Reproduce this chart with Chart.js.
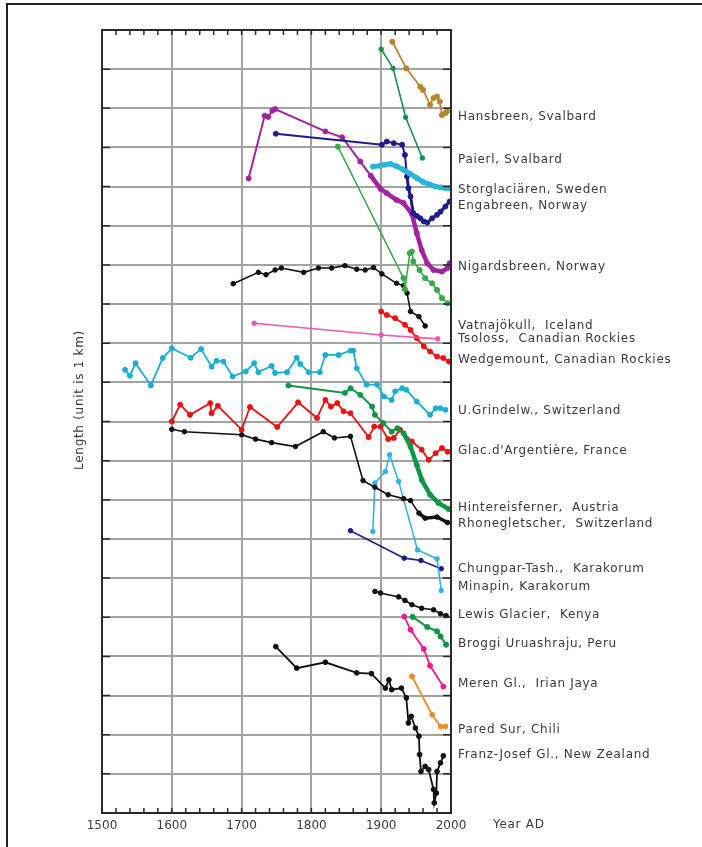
<!DOCTYPE html>
<html lang="en">
<head>
<meta charset="UTF-8">
<title>Glacier length records</title>
<script src="https://cdn.jsdelivr.net/npm/chart.js"></script>
<style>
    html, body { margin: 0; padding: 0; background: #fff; }
    .page { position: relative; width: 702px; height: 847px; overflow: hidden; }
    .frame {
        position: absolute; left: 6px; top: 3px; right: -4px; bottom: -4px;
        border-top: 2px solid #222; border-left: 2px solid #222;
    }
    canvas { position: absolute; left: 0; top: 0; }
</style>
</head>
<body>
<div class="page">
    <div class="frame"></div>
    <canvas id="glaciers" width="702" height="847"></canvas>
</div>

<script>
// --- data: year AD and relative length (km) ---
const hansbreenYear = [1916, 1936, 1956, 1960, 1970, 1975, 1980, 1984, 1987, 1992, 1994];
const hansbreenLen  = [19.70, 19.02, 18.55, 18.47, 18.09, 18.26, 18.30, 18.17, 17.83, 17.88, 17.92];

const paierlYear = [1900, 1917, 1935, 1959];
const paierlLen  = [19.51, 19.02, 17.77, 16.73];

const storYear = [1888, 1898, 1905, 1913, 1922, 1932, 1941, 1951, 1960, 1970, 1978, 1985, 1992, 1998];
const storLen  = [16.51, 16.53, 16.56, 16.58, 16.52, 16.43, 16.33, 16.22, 16.12, 16.05, 16.00, 15.98, 15.96, 15.96];

const engaYear = [1749, 1901, 1908, 1918, 1930, 1934, 1937, 1939, 1942, 1946, 1951, 1956, 1961, 1966, 1973, 1980, 1985, 1992, 1998];
const engaLen  = [17.35, 17.07, 17.15, 17.11, 17.07, 16.81, 16.26, 15.96, 15.75, 15.32, 15.25, 15.19, 15.11, 15.08, 15.19, 15.28, 15.36, 15.49, 15.62];

const nigYear = [1710, 1733, 1738, 1744, 1748, 1820, 1844, 1870, 1885, 1899, 1908, 1922, 1932, 1944, 1951, 1958, 1966, 1975, 1987, 1995, 1998];
const nigLen  = [16.21, 17.81, 17.78, 17.94, 17.98, 17.41, 17.26, 16.64, 16.28, 15.94, 15.83, 15.66, 15.58, 15.30, 14.81, 14.38, 14.04, 13.87, 13.83, 13.92, 14.04];

const vatnaYear = [1838, 1932, 1934, 1941, 1944, 1946, 1955, 1963, 1973, 1980, 1987, 1995];
const vatnaLen  = [17.02, 13.66, 13.38, 14.30, 14.34, 14.09, 13.87, 13.66, 13.53, 13.36, 13.15, 13.02];

const nordYear = [1688, 1724, 1735, 1748, 1757, 1789, 1810, 1829, 1848, 1865, 1877, 1889, 1901, 1922, 1932, 1937, 1942, 1954, 1963];
const nordLen  = [13.52, 13.81, 13.75, 13.87, 13.92, 13.81, 13.92, 13.92, 13.98, 13.89, 13.87, 13.93, 13.77, 13.53, 13.47, 13.28, 12.81, 12.68, 12.44];

const tsolossYear = [1718, 1900, 1981];
const tsolossLen  = [12.51, 12.21, 12.11];

const wedgeYear = [1900, 1908, 1920, 1934, 1942, 1951, 1961, 1970, 1980, 1989, 1997];
const wedgeLen  = [12.81, 12.72, 12.64, 12.47, 12.34, 12.13, 11.92, 11.79, 11.66, 11.62, 11.53];

const grindelYear = [1533, 1540, 1548, 1570, 1587, 1600, 1627, 1642, 1657, 1664, 1674, 1687, 1706, 1718, 1724, 1743, 1748, 1765, 1779, 1784, 1796, 1812, 1820, 1839, 1856, 1860, 1865, 1879, 1894, 1904, 1915, 1920, 1930, 1936, 1951, 1970, 1978, 1985, 1992];
const grindelLen  = [11.32, 11.17, 11.49, 10.92, 11.62, 11.87, 11.63, 11.85, 11.40, 11.55, 11.53, 11.15, 11.28, 11.49, 11.26, 11.42, 11.24, 11.26, 11.63, 11.47, 11.26, 11.26, 11.70, 11.70, 11.81, 11.81, 11.36, 10.94, 10.94, 10.64, 10.55, 10.77, 10.85, 10.81, 10.51, 10.17, 10.34, 10.34, 10.30];

const hinterYear = [1767, 1848, 1856, 1870, 1887, 1891, 1903, 1915, 1923, 1932, 1942, 1951, 1958, 1970, 1982, 1997];
const hinterLen  = [10.92, 10.73, 10.85, 10.68, 10.38, 10.17, 9.96, 9.74, 9.83, 9.70, 9.36, 8.89, 8.51, 8.13, 7.92, 7.76];

const argYear = [1600, 1612, 1626, 1655, 1657, 1666, 1700, 1712, 1751, 1781, 1808, 1820, 1828, 1837, 1846, 1856, 1882, 1890, 1899, 1910, 1918, 1927, 1944, 1958, 1968, 1978, 1987, 1995];
const argLen  = [10.00, 10.43, 10.17, 10.47, 10.21, 10.40, 9.79, 10.37, 9.86, 10.49, 10.09, 10.55, 10.38, 10.47, 10.26, 10.21, 9.60, 9.87, 9.87, 9.55, 9.58, 9.79, 9.49, 9.28, 9.02, 9.19, 9.32, 9.23];

const rhoneYear = [1600, 1618, 1700, 1720, 1743, 1777, 1817, 1833, 1856, 1874, 1891, 1910, 1932, 1942, 1954, 1963, 1980, 1995];
const rhoneLen  = [9.80, 9.74, 9.66, 9.55, 9.46, 9.36, 9.74, 9.58, 9.62, 8.49, 8.32, 8.13, 8.03, 7.98, 7.66, 7.53, 7.56, 7.42];

const minapinYear = [1888, 1891, 1906, 1912, 1925, 1952, 1980, 1986];
const minapinLen  = [7.19, 8.43, 8.72, 9.15, 8.47, 6.72, 6.49, 5.68];

const chungYear = [1856, 1933, 1957, 1986];
const chungLen  = [7.21, 6.51, 6.45, 6.24];

const lewisYear = [1891, 1899, 1925, 1934, 1944, 1958, 1975, 1985, 1993];
const lewisLen  = [5.66, 5.62, 5.52, 5.43, 5.32, 5.23, 5.19, 5.09, 5.04];

const broggiYear = [1945, 1966, 1980, 1985, 1993];
const broggiLen  = [5.01, 4.75, 4.64, 4.51, 4.30];

const merenYear = [1933, 1942, 1961, 1970, 1989];
const merenLen  = [5.02, 4.68, 4.19, 3.76, 3.23];

const paredYear = [1944, 1973, 1985, 1992];
const paredLen  = [3.49, 2.51, 2.21, 2.21];

const franzYear = [1749, 1779, 1820, 1865, 1886, 1906, 1911, 1915, 1929, 1936, 1939, 1943, 1949, 1954, 1955, 1957, 1963, 1968, 1975, 1976, 1979, 1980, 1985, 1989];
const franzLen  = [4.25, 3.70, 3.85, 3.58, 3.56, 3.19, 3.40, 3.15, 3.19, 2.94, 2.30, 2.47, 2.17, 1.96, 1.49, 1.06, 1.19, 1.11, 0.60, 0.26, 0.51, 1.06, 1.28, 1.46];

// names written at the right of the frame, and the length level they sit at
const glacierNames = [
    'Hansbreen, Svalbard', 'Paierl, Svalbard', 'Storglaciären, Sweden', 'Engabreen, Norway',
    'Nigardsbreen, Norway', 'Vatnajökull,  Iceland', 'Tsoloss,  Canadian Rockies',
    'Wedgemount, Canadian Rockies', 'U.Grindelw., Switzerland', "Glac.d'Argentière, France",
    'Hintereisferner,  Austria', 'Rhonegletscher,  Switzerland', 'Chungpar-Tash.,  Karakorum',
    'Minapin, Karakorum', 'Lewis Glacier,  Kenya', 'Broggi Uruashraju, Peru',
    'Meren Gl.,  Irian Jaya', 'Pared Sur, Chili', 'Franz-Josef Gl., New Zealand'
];
const glacierNameLevel = [17.79, 16.68, 15.92, 15.52, 13.94, 12.44, 12.10, 11.58, 10.26, 9.26,
                          7.79, 7.38, 6.24, 5.77, 5.06, 4.32, 3.30, 2.13, 1.49];

const yearTicks = [1500, 1600, 1700, 1800, 1900, 2000];

function series(label, xs, ys, color, width, radius) {
    return {
        label: label,
        data: xs.map((x, i) => ({ x: x, y: ys[i] })),
        showLine: true,
        borderColor: color,
        backgroundColor: color,
        borderWidth: width || 1.6,
        pointRadius: radius || 2.3,
        pointBorderWidth: 1,
        pointHoverRadius: 0,
        tension: 0
    };
}

const datasets = [
    series('Hansbreen', hansbreenYear, hansbreenLen, '#b8862e', 1.8, 2.6),
    series('Paierl', paierlYear, paierlLen, '#17924a'),
    series('Storglaciären', storYear, storLen, '#2bb3d9', 5, 2.5),
    series('Engabreen', engaYear, engaLen, '#1c1c8f', 2, 2.5),
    series('Nigardsbreen', nigYear, nigLen, '#a4229f', 2, 2.5),
    series('Vatnajökull', vatnaYear, vatnaLen, '#3aaa48', 1.6, 2.6),
    series('Nordic black', nordYear, nordLen, '#111111'),
    series('Tsoloss', tsolossYear, tsolossLen, '#ee55b5'),
    series('Wedgemount', wedgeYear, wedgeLen, '#ee1111', 1.8, 2.5),
    series('U.Grindelwald', grindelYear, grindelLen, '#1aafd2', 1.8, 2.5),
    series('Hintereisferner', hinterYear, hinterLen, '#129548', 2, 2.5),
    series("Argentière", argYear, argLen, '#ee1111', 1.8, 2.5),
    series('Rhonegletscher', rhoneYear, rhoneLen, '#111111', 1.6, 2.3),
    series('Minapin', minapinYear, minapinLen, '#36b2df'),
    series('Chungpar-Tash', chungYear, chungLen, '#1c1c8f'),
    series('Lewis', lewisYear, lewisLen, '#111111'),
    series('Broggi', broggiYear, broggiLen, '#129548', 2, 2.6),
    series('Meren', merenYear, merenLen, '#ee1a95', 1.8, 2.5),
    series('Pared Sur', paredYear, paredLen, '#f28a2a', 1.8, 2.5),
    series('Franz-Josef', franzYear, franzLen, '#111111', 1.8, 2.4)
];

// thicker trace where the original record gets dense
const denseAfter = { 'Nigardsbreen': [1880, 4.5], 'Hintereisferner': [1925, 4.5], 'Rhonegletscher': [1945, 3.5], 'Engabreen': [1935, 3] };
datasets.forEach(ds => {
    const d = denseAfter[ds.label];
    if (d) ds.segment = { borderWidth: c => c.p0.parsed.x >= d[0] ? d[1] : ds.borderWidth };
});

const framePlugin = {
    id: 'frame',
    afterDraw(chart) {
        const { ctx, chartArea: a, scales: { x, y } } = chart;
        ctx.save();
        ctx.strokeStyle = '#2a2a2a';
        ctx.lineWidth = 1.5;
        // minor year ticks on top and bottom
        ctx.beginPath();
        for (let yr = 1500; yr <= 2000; yr += 20) {
            const px = x.getPixelForValue(yr);
            ctx.moveTo(px, a.bottom); ctx.lineTo(px, a.bottom - 5);
            ctx.moveTo(px, a.top); ctx.lineTo(px, a.top + 5);
        }
        // ticks on left and right at every km
        for (let v = 0; v <= 20; v++) {
            const py = y.getPixelForValue(v);
            ctx.moveTo(a.left, py); ctx.lineTo(a.left + 8, py);
            ctx.moveTo(a.right, py); ctx.lineTo(a.right - 8, py);
        }
        ctx.stroke();
        ctx.lineWidth = 2;
        ctx.strokeRect(a.left, a.top, a.right - a.left, a.bottom - a.top);

        // glacier names
        ctx.fillStyle = '#3a3a3a';
        ctx.font = '12px "DejaVu Sans"';
        ctx.letterSpacing = '0.7px';
        ctx.textBaseline = 'middle';
        ctx.textAlign = 'left';
        glacierNames.forEach((name, i) => {
            ctx.fillText(name, a.right + 7, y.getPixelForValue(glacierNameLevel[i]));
        });

        // axis titles
        ctx.fillText('Year AD', 493, 825);
        ctx.translate(80, 400);
        ctx.rotate(-Math.PI / 2);
        ctx.textAlign = 'center';
        ctx.fillText('Length (unit is 1 km)', 0, 0);
        ctx.restore();
    }
};

new Chart(document.getElementById('glaciers'), {
    type: 'scatter',
    data: { datasets: datasets },
    options: {
        responsive: false,
        animation: false,
        events: [],
        layout: { padding: { left: 102, right: 251, top: 30, bottom: 0 } },
        plugins: { legend: { display: false }, tooltip: { enabled: false } },
        scales: {
            x: {
                type: 'linear',
                min: 1500,
                max: 2000,
                afterFit: s => { s.height = 34; },
                afterBuildTicks: s => { s.ticks = yearTicks.map(v => ({ value: v })); },
                border: { display: false },
                grid: { color: '#a3a3a3', lineWidth: 2, drawTicks: false },
                ticks: {
                    padding: 6,
                    color: '#3a3a3a',
                    font: { family: 'DejaVu Sans', size: 12 },
                    maxRotation: 0,
                    callback: v => String(v)
                }
            },
            y: {
                type: 'linear',
                min: 0,
                max: 20,
                afterFit: s => { s.width = 0; },
                border: { display: false },
                grid: { color: '#a3a3a3', lineWidth: 2, drawTicks: false },
                ticks: { display: false, stepSize: 1 }
            }
        }
    },
    plugins: [framePlugin]
});
</script>
</body>
</html>
